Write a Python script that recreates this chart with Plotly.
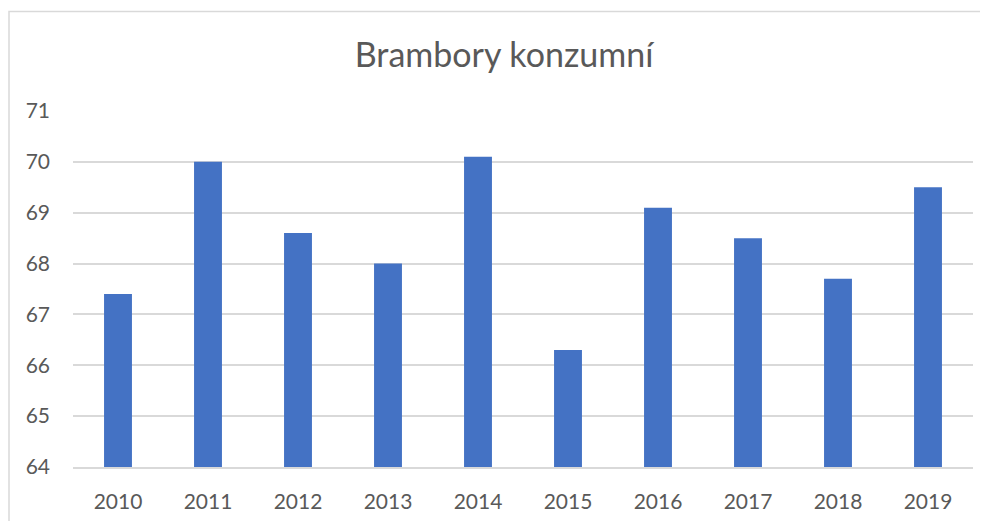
import plotly.graph_objects as go

years = ["2010", "2011", "2012", "2013", "2014", "2015", "2016", "2017", "2018", "2019"]
values = [67.4, 70.0, 68.6, 68.0, 70.1, 66.3, 69.1, 68.5, 67.7, 69.5]
title_text = "Brambory konzumní"

FONT = "Lato, 'Open Sans', sans-serif"

fig = go.Figure(go.Bar(x=years, y=values, marker=dict(color="#4472C4", line=dict(width=0)), width=0.31))

# the page body adds an 8px margin around the figure
W, H = 980, 513
L, R, T, B = 65, 15, 103, 54
pw, ph = W - L - R, H - T - B

fig.update_layout(
    width=W, height=H,
    margin=dict(l=L, r=R, t=T, b=B),
    paper_bgcolor="white", plot_bgcolor="white",
    showlegend=False,
    title=dict(text=title_text, x=496 / W, xanchor="center", xref="container",
               y=1 - 47 / H, yanchor="middle", yref="container",
               font=dict(family=FONT, size=34, color="#595959")),
    font=dict(family=FONT, size=21, color="#595959"),
)
fig.update_xaxes(showgrid=False, showline=True, linecolor="#D9D9D9", linewidth=1.5,
                 ticks="", ticklabelstandoff=15, automargin=False,
                 tickfont=dict(size=21, color="#595959"))
fig.update_yaxes(range=[64, 71], dtick=1, showgrid=True, gridcolor="#D9D9D9", gridwidth=1.5,
                 zeroline=False, showline=False, ticks="", ticklabelstandoff=22, automargin=False,
                 tickfont=dict(size=21, color="#595959"))

# outer chart border
fig.add_shape(type="rect", xref="paper", yref="paper",
              x0=(1 - L) / pw, x1=(W + 10 - L) / pw,
              y0=(H - B - (H + 10)) / ph, y1=(H - B - 3.5) / ph,
              line=dict(color="#D9D9D9", width=1.5), fillcolor="rgba(0,0,0,0)", layer="below")

fig.write_html("out.html")
